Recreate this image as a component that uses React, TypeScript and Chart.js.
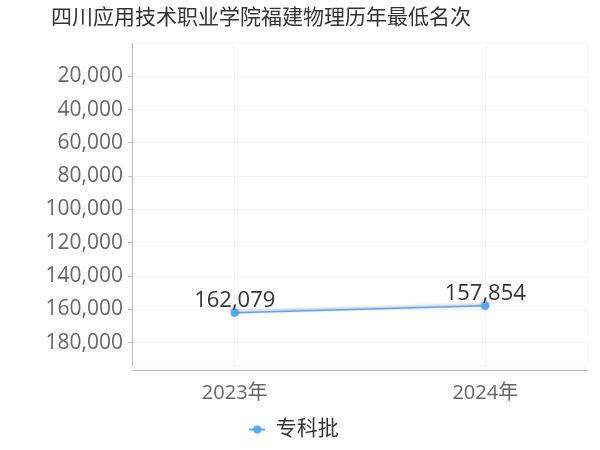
import React, { useEffect, useRef } from "react";
import Chart from "chart.js/auto";

const title = "四川应用技术职业学院福建物理历年最低名次";
const years = ["2023年", "2024年"];
const seriesName = "专科批";
const ranks = [162079, 157854];
const yTicks = [20000, 40000, 60000, 80000, 100000, 120000, 140000, 160000, 180000];
const yMax = 194000;

const FONT = "'Open Sans', 'Noto Sans CJK SC', sans-serif";
const BLUE = "#52a7ff";

const fmt = (v: number) => v.toLocaleString("en-US");

const makeLegendIcon = () => {
  const c = document.createElement("canvas");
  c.width = 16;
  c.height = 10;
  const g = c.getContext("2d")!;
  g.strokeStyle = BLUE;
  g.lineWidth = 2;
  g.beginPath();
  g.moveTo(0, 5);
  g.lineTo(16, 5);
  g.stroke();
  g.fillStyle = BLUE;
  g.beginPath();
  g.arc(8, 5, 4, 0, Math.PI * 2);
  g.fill();
  return c;
};

const decor = {
  id: "decor",
  beforeDraw(chart: any) {
    const { ctx, chartArea } = chart;
    ctx.save();
    // title
    ctx.fillStyle = "#333";
    ctx.font = `21px ${FONT}`;
    ctx.textAlign = "center";
    ctx.textBaseline = "middle";
    ctx.fillText(title, 261, 18);
    // faint frame
    ctx.strokeStyle = "#f3f3f3";
    ctx.lineWidth = 1;
    ctx.strokeRect(chartArea.left, chartArea.top, chartArea.right - chartArea.left, chartArea.bottom - chartArea.top);
    ctx.restore();
  },
  afterDraw(chart: any) {
    const { ctx, chartArea } = chart;
    ctx.save();
    ctx.strokeStyle = "#bbb";
    ctx.lineWidth = 1;
    ctx.beginPath();
    ctx.moveTo(chartArea.left + 0.5, chartArea.top);
    ctx.lineTo(chartArea.left + 0.5, chartArea.bottom);
    ctx.moveTo(chartArea.left + 1, chartArea.bottom + 4.5);
    ctx.lineTo(chartArea.right, chartArea.bottom + 4.5);
    ctx.stroke();
    // data labels
    const meta = chart.getDatasetMeta(0);
    ctx.fillStyle = "#333";
    ctx.font = `22px ${FONT}`;
    ctx.textAlign = "center";
    ctx.textBaseline = "bottom";
    meta.data.forEach((pt: any, i: number) => {
      ctx.fillText(fmt(ranks[i]), pt.x, pt.y - 1);
    });
    ctx.restore();
  },
  beforeDatasetsDraw(chart: any) {
    const { ctx } = chart;
    ctx.save();
    ctx.shadowColor = "rgba(0,0,0,0.35)";
    ctx.shadowBlur = 3;
    ctx.shadowOffsetY = -1;
  },
  afterDatasetsDraw(chart: any) {
    chart.ctx.restore();
  },
};

const App: React.FC = () => {
  const chartRef = useRef<HTMLCanvasElement>(null);

  useEffect(() => {
    const ctx = chartRef.current!;
    const chart = new Chart(ctx, {
      type: "line",
      data: {
        datasets: [
          {
            label: seriesName,
            data: ranks.map((r, i) => ({ x: i, y: r })),
            borderColor: BLUE,
            backgroundColor: BLUE,
            borderWidth: 1.5,
            pointRadius: 4,
            pointHoverRadius: 4,
            pointBackgroundColor: BLUE,
            pointBorderWidth: 0,
          },
        ],
      },
      options: {
        responsive: false,
        animation: false,
        layout: { padding: { top: 43, left: 0, right: 12, bottom: 0 } },
        scales: {
          x: {
            type: "linear",
            min: -0.41,
            max: 1.41,
            afterBuildTicks: (s: any) => {
              s.ticks = years.map((_, i) => ({ value: i }));
            },
            afterFit: (s: any) => {
              s.height = 45;
            },
            ticks: {
              callback: (v: any) => years[v as number] ?? "",
              color: "#666",
              font: { family: FONT, size: 20 },
              padding: 15,
            },
            grid: { color: "#f3f3f3", drawTicks: false },
            border: { display: false },
          },
          y: {
            reverse: true,
            min: 0,
            max: yMax,
            afterBuildTicks: (s: any) => {
              s.ticks = yTicks.map((v) => ({ value: v }));
            },
            afterFit: (s: any) => {
              s.width = 132;
            },
            ticks: {
              callback: (v: any) => fmt(v as number),
              color: "#666",
              font: { family: FONT, size: 21 },
              padding: 5,
            },
            grid: { color: "#f3f3f3", tickLength: 4, tickColor: "#bbb" },
            border: { display: false },
          },
        },
        plugins: {
          title: { display: false },
          tooltip: { enabled: false },
          legend: {
            position: "bottom",
            labels: {
              usePointStyle: true,
              pointStyle: makeLegendIcon(),
              color: "#333",
              font: { family: FONT, size: 21 },
              padding: 8,
              boxWidth: 16,
            },
          },
        },
      },
      plugins: [decor],
    });
    return () => {
      chart.destroy();
    };
  }, []);

  return (
    <div style={{ position: "absolute", left: 0, top: 0, width: 600, height: 450 }}>
      <canvas ref={chartRef} width={600} height={450}></canvas>
    </div>
  );
};

export default App;
